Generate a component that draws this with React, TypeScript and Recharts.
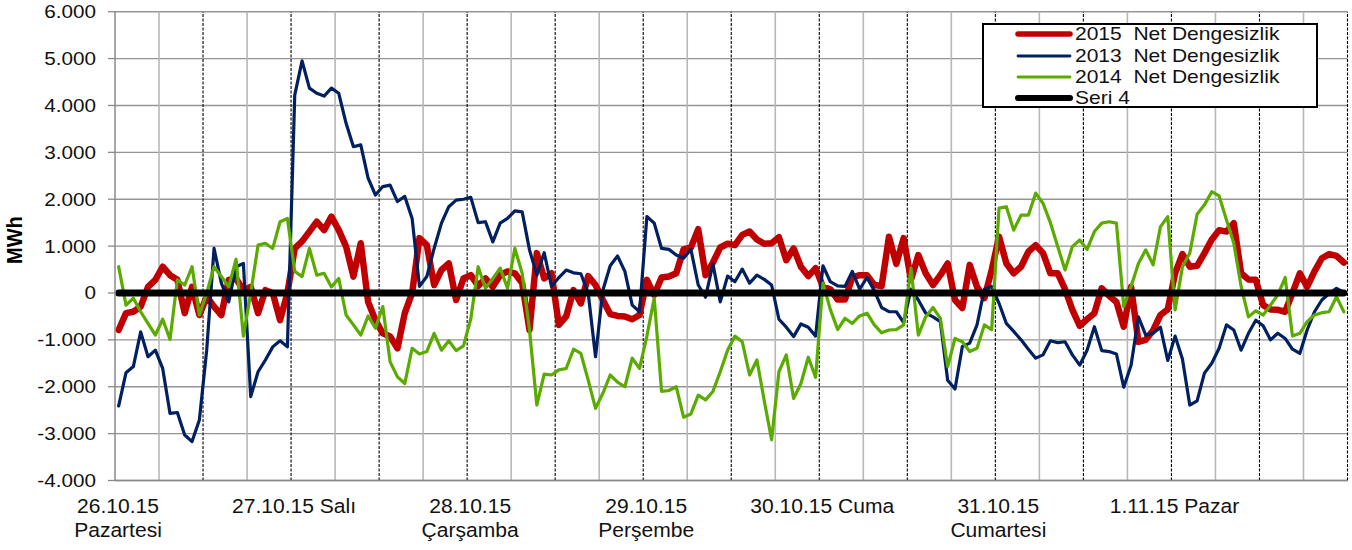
import { LineChart, Line, XAxis, YAxis, CartesianGrid, ReferenceLine, Legend } from 'recharts';

// hourly net imbalance (MWh), 26.10.15 00:00 .. 1.11.15 23:00
const NET_2015 = [
  -790, -430, -400, -290, 130, 280, 560, 380, 280, -430,
  130, -470, -80, -290, -470, 280, 310, 60, 130, -430,
  60, 0, -580, 0, 950, 1100, 1310, 1520, 1340, 1630,
  1340, 990, 350, 1060, -190, -580, -860, -930, -1180, -430,
  0, 1170, 1020, 170, 490, 630, -150, 310, 380, 150,
  310, 130, 380, 460, 420, 210, -790, 850, 310, 420,
  -680, -500, 60, -220, 360, 170, -150, -450, -490, -500,
  -560, -470, 280, -40, 330, 350, 420, 930, 970, 1360,
  380, 650, 970, 1050, 1020, 1240, 1310, 1140, 1050, 1060,
  1190, 700, 950, 560, 360, 530, 130, 80, -140, -140,
  330, 380, 380, 170, 150, 1200, 620, 1170, 280, 810,
  420, 170, 380, 630, -150, -320, 600, 130, -110, 490,
  1200, 630, 420, 560, 880, 1020, 850, 420, 420, 80,
  -360, -700, -560, -430, 100, -60, -190, -720, 130, -1040,
  -1000, -800, -470, -350, 420, 830, 560, 580, 850, 1140,
  1340, 1310, 1490, 420, 290, 280, -260, -350, -360, -400,
  0, 420, 130, 460, 740, 830, 790, 650,
];

const NET_2013 = [
  -2410, -1700, -1570, -830, -1360, -1220, -1610, -2570, -2550, -3030,
  -3170, -2710, -1220, 950, 210, -190, 560, 630, -2210, -1680,
  -1430, -1150, -1020, -1150, 4220, 4950, 4370, 4260, 4200, 4370,
  4260, 3620, 3120, 3160, 2450, 2090, 2270, 2300, 1950, 2060,
  1590, 140, 350, 950, 1490, 1840, 1980, 2000, 2040, 1500,
  1520, 1090, 1490, 1590, 1750, 1730, 920, 380, 860, 140,
  330, 490, 430, 410, 0, -1360, 60, 580, 790, 460,
  -260, -400, 1630, 1490, 950, 930, 810, 740, 930, 170,
  -90, 620, -190, 360, 240, 510, 210, 380, 290, 170,
  -560, -730, -930, -660, -730, -920, 580, 240, 150, 140,
  460, 80, 330, 50, -310, -400, -400, -630, 80, -150,
  -430, -510, -610, -1860, -2050, -1140, -1070, -680, 80, 140,
  -220, -650, -820, -1000, -1200, -1390, -1320, -1020, -1060, -1040,
  -1320, -1540, -1220, -720, -1230, -1250, -1300, -2010, -1540, -510,
  -900, -860, -730, -1440, -920, -1410, -2390, -2300, -1710, -1500,
  -1180, -680, -790, -1220, -860, -580, -700, -1000, -860, -970,
  -1200, -1290, -790, -400, -150, -10, 100, 10,
];

const NET_2014 = [
  560, -260, -110, -400, -650, -900, -560, -990, 280, 170,
  560, -470, 0, 560, 350, 130, 720, -920, 0, 1020,
  1060, 950, 1520, 1590, 460, 350, 950, 380, 420, 130,
  310, -470, -680, -900, -490, -750, -290, -1470, -1790, -1930,
  -1180, -1300, -1250, -860, -1220, -1020, -1230, -1130, -550, 560,
  100, 310, 530, 100, 950, 420, -790, -2390, -1730, -1750,
  -1640, -1610, -1200, -1290, -1860, -2460, -2140, -1750, -1900, -2000,
  -1390, -1610, -920, -110, -2100, -2080, -2000, -2650, -2580, -2180,
  -2280, -2100, -1680, -1220, -920, -1040, -1750, -1430, -2300, -3130,
  -1680, -1320, -2250, -1930, -1370, -1800, 210, -350, -780, -540,
  -650, -490, -430, -680, -850, -790, -780, -680, 530, -900,
  -510, -310, -540, -1570, -970, -1040, -1250, -1180, -680, -780,
  1810, 1840, 1340, 1660, 1660, 2130, 1910, 1500, 990, 490,
  990, 1130, 930, 1310, 1490, 1520, 1490, -290, 140, 630,
  920, 600, 1410, 1630, -360, 560, 850, 1680, 1880, 2160,
  2070, 1560, 1060, 140, -510, -380, -470, -260, -40, 330,
  -920, -860, -610, -470, -420, -400, -80, -400,
];

// zero reference series
const SERI_4 = [
  0, 0, 0, 0, 0, 0, 0, 0, 0, 0, 0, 0, 0, 0, 0, 0, 0, 0, 0, 0, 0, 0, 0, 0,
  0, 0, 0, 0, 0, 0, 0, 0, 0, 0, 0, 0, 0, 0, 0, 0, 0, 0, 0, 0, 0, 0, 0, 0,
  0, 0, 0, 0, 0, 0, 0, 0, 0, 0, 0, 0, 0, 0, 0, 0, 0, 0, 0, 0, 0, 0, 0, 0,
  0, 0, 0, 0, 0, 0, 0, 0, 0, 0, 0, 0, 0, 0, 0, 0, 0, 0, 0, 0, 0, 0, 0, 0,
  0, 0, 0, 0, 0, 0, 0, 0, 0, 0, 0, 0, 0, 0, 0, 0, 0, 0, 0, 0, 0, 0, 0, 0,
  0, 0, 0, 0, 0, 0, 0, 0, 0, 0, 0, 0, 0, 0, 0, 0, 0, 0, 0, 0, 0, 0, 0, 0,
  0, 0, 0, 0, 0, 0, 0, 0, 0, 0, 0, 0, 0, 0, 0, 0, 0, 0, 0, 0, 0, 0, 0, 0,
];

const DAY_TICKS = [0, 24, 48, 72, 96, 120, 144];
const DAY_LABELS = [
  ['26.10.15', 'Pazartesi'],
  ['27.10.15 Salı'],
  ['28.10.15', 'Çarşamba'],
  ['29.10.15', 'Perşembe'],
  ['30.10.15 Cuma'],
  ['31.10.15', 'Cumartesi'],
  ['1.11.15 Pazar'],
];
const HALF_DAY_LINES = [12, 24, 36, 48, 60, 72, 84, 96, 108, 120, 132, 144, 156, 168];
const SIX_HOUR_LINES = [6, 18, 30, 42, 54, 66, 78, 90, 102, 114, 126, 138, 150, 162];

const Y_TICKS = [-4000, -3000, -2000, -1000, 0, 1000, 2000, 3000, 4000, 5000, 6000];
const Y_LABELS = ['-4.000', '-3.000', '-2.000', '-1.000', '0', '1.000', '2.000', '3.000', '4.000', '5.000', '6.000'];

const SERIES = [
  { key: 's2015', name: '2015  Net Dengesizlik', color: '#C00000', width: 6.5, legendWidth: 5.5 },
  { key: 's2013', name: '2013  Net Dengesizlik', color: '#002060', width: 3.2, legendWidth: 2.8 },
  { key: 's2014', name: '2014  Net Dengesizlik', color: '#5AAA00', width: 3.2, legendWidth: 2.8 },
  { key: 's4', name: 'Seri 4', color: '#000000', width: 7, legendWidth: 6 },
];

const data = NET_2015.map((v, i) => ({
  x: i + 0.5,
  s2015: v,
  s2013: NET_2013[i],
  s2014: NET_2014[i],
  s4: SERI_4[i],
}));

const FONT = '"Liberation Sans", Arial, sans-serif';

const XTick = ({ x, y, payload }: any) => {
  const lines = DAY_LABELS[DAY_TICKS.indexOf(payload.value)] || [];
  return (
    <g transform={`translate(${x + 3},${y}) scale(1.08,1)`}>
      {lines.map((t, i) => (
        <text key={i} x={0} y={25 + i * 24} textAnchor="middle" fontSize={19.5} fontFamily={FONT} fill="#111">
          {t}
        </text>
      ))}
    </g>
  );
};

const YTick = ({ x, y, payload }: any) => (
  <g transform={`translate(${x},${y}) scale(1.15,1)`}>
    <text x={0} y={0} dy={6.5} textAnchor="end" fontSize={18} fontFamily={FONT} fill="#111">
      {Y_LABELS[Y_TICKS.indexOf(payload.value)]}
    </text>
  </g>
);

const LegendBox = () => (
  <div
    style={{
      width: 336,
      height: 85,
      boxSizing: 'border-box',
      border: '2px solid #000',
      background: '#fff',
      position: 'relative',
    }}
  >
    {SERIES.map((s, i) => (
      <div
        key={s.key}
        style={{ position: 'absolute', left: 31, top: -1.6 + i * 21.3, height: 21.3, display: 'flex', alignItems: 'center' }}
      >
        <svg width={60} height={10} style={{ display: 'block' }}>
          <line x1={3} x2={55} y1={5} y2={5} stroke={s.color} strokeWidth={s.legendWidth} strokeLinecap="round" />
        </svg>
        <span
          style={{
            fontFamily: FONT,
            fontSize: 18.6,
            whiteSpace: 'pre',
            color: '#111',
            display: 'inline-block',
            transform: 'scaleX(1.13)',
            transformOrigin: 'left center',
          }}
        >
          {s.name}
        </span>
      </div>
    ))}
  </div>
);

export default function App() {
  return (
    <div style={{ position: 'absolute', left: 0, top: 0, width: 1352, height: 550, background: '#fff' }}>
      <LineChart width={1352} height={550} data={data} margin={{ top: 11.7, right: 4.5, bottom: 9.5, left: 0 }}>
        <CartesianGrid vertical={false} stroke="#959595" strokeWidth={1.4} />
        {SIX_HOUR_LINES.map((h) => (
          <ReferenceLine key={`g${h}`} x={h} stroke="#b8b8b8" strokeWidth={1.6} />
        ))}
        {HALF_DAY_LINES.map((h) => (
          <ReferenceLine key={`d${h}`} x={h} stroke="#000" strokeWidth={1.1} strokeDasharray="3 1.5" />
        ))}
        <XAxis
          type="number"
          dataKey="x"
          domain={[0, 168]}
          ticks={DAY_TICKS}
          interval={0}
          tick={<XTick />}
          tickLine={false}
          axisLine={{ stroke: '#8a8a8a', strokeWidth: 1.5 }}
          height={60}
        />
        <YAxis
          domain={[-4000, 6000]}
          ticks={Y_TICKS}
          interval={0}
          width={115}
          tickSize={7}
          tickMargin={12}
          tick={<YTick />}
          tickLine={{ stroke: '#8a8a8a', strokeWidth: 1.3 }}
          axisLine={{ stroke: '#8a8a8a', strokeWidth: 1.5 }}
          label={{
            content: ({ viewBox }: any) => (
              <text
                transform={`translate(${viewBox.x + 22},${viewBox.y + viewBox.height / 2 - 6}) rotate(-90) scale(1,1.12)`}
                textAnchor="middle"
                fontSize={20}
                fontWeight={700}
                fontFamily={FONT}
                fill="#000"
              >
                MWh
              </text>
            ),
          }}
        />
        <Legend
          layout="horizontal"
          verticalAlign="middle"
          align="center"
          content={<LegendBox />}
          wrapperStyle={{ left: 982, top: 23.3, width: 336 }}
        />
        {SERIES.map((s) => (
          <Line
            key={s.key}
            type="linear"
            dataKey={s.key}
            name={s.name}
            stroke={s.color}
            strokeWidth={s.width}
            strokeLinejoin="round"
            strokeLinecap="round"
            dot={false}
            activeDot={false}
            isAnimationActive={false}
          />
        ))}
      </LineChart>
    </div>
  );
}
